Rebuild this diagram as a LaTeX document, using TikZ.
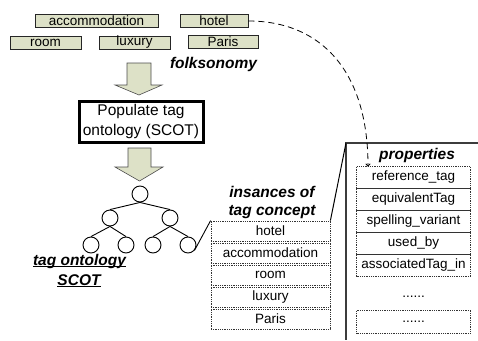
\documentclass[tikz,border=0pt]{standalone}
\usepackage{fontspec}
\setmainfont{Liberation Sans}
\usetikzlibrary{arrows.meta}
\definecolor{tagfill}{RGB}{221,225,199}
\definecolor{panel}{RGB}{60,60,60}
\begin{document}
\begin{tikzpicture}[x=1pt,y=-1pt,
  lbl/.style={font=\fontsize{13.5}{15}\selectfont},
  bi/.style={font=\fontsize{15.5}{17}\selectfont\bfseries\itshape, inner sep=0pt},
  tagbox/.style={draw=black!85, fill=tagfill, line width=0.9pt, minimum height=13pt, inner sep=0pt, lbl},
  instbox/.style={draw=black!80, densely dotted, line width=0.8pt, minimum width=119pt, minimum height=20pt, inner sep=0pt, lbl},
  propbox/.style={draw=black!80, densely dotted, line width=0.8pt, minimum width=114pt, minimum height=22pt, inner sep=0pt, lbl},
  circ/.style={circle, draw, line width=0.9pt, minimum size=16pt, inner sep=0pt},
  bigarrow/.style={draw=black!70, fill=tagfill, line width=0.6pt},
  tedge/.style={line width=0.9pt},
  pline/.style={draw=panel, line width=1.3pt}
]
\useasboundingbox (0,0) rectangle (478,340);

% folksonomy tags
\node[tagbox, minimum width=123pt] (accom) at (96.5,21) {accommodation};
\node[tagbox, minimum width=68pt] (hotel) at (214,21) {hotel};
\node[tagbox, minimum width=71pt] (room) at (45.5,42.5) {room};
\node[tagbox, minimum width=71pt] (luxury) at (134.5,42.5) {luxury};
\node[tagbox, minimum width=70pt] (paris) at (223,42) {Paris};
\node[bi] (folk) at (213.5,64) {folksonomy};

% big arrows
\draw[bigarrow] (127,63) -- (151,63) -- (151,85) -- (162,85) -- (139,95) -- (115,85) -- (127,85) -- cycle;
\draw[bigarrow] (128,148) -- (151,148) -- (151,167) -- (163,167) -- (139.5,181) -- (115,167) -- (128,167) -- cycle;

% populate box
\node[draw, line width=3pt, minimum width=124pt, minimum height=41pt, align=center,
      font=\fontsize{15.5}{20}\selectfont, inner sep=0pt] (pop) at (141,121.5)
      {Populate tag\\ontology (SCOT)};

% tree
\node[circ] (r) at (140,194) {};
\node[circ] (a) at (110,218) {};
\node[circ] (b) at (170,218) {};
\node[circ] (l1) at (91,245) {};
\node[circ] (l2) at (126,245) {};
\node[circ] (l3) at (153,245) {};
\node[circ] (l4) at (188,245) {};
\draw[tedge] (r.south) -- (a.north);
\draw[tedge] (r.south) -- (b.north);
\draw[tedge] (a.south) -- (l1.north);
\draw[tedge] (a.south) -- (l2.north);
\draw[tedge] (b.south) -- (l3.north);
\draw[tedge] (b.south) -- (l4.north);

\node[bi] (to1) at (79.5,261) {tag ontology};
\node[bi] (to2) at (79,280) {SCOT};
\draw[line width=1pt] ([yshift=-1.6pt]to1.base west) -- ([yshift=-1.6pt]to1.base east);
\draw[line width=1pt] ([yshift=-1.6pt]to2.base west) -- ([yshift=-1.6pt]to2.base east);

% instances
\node[bi] (ins1) at (272,192) {insances of};
\node[bi] (ins2) at (272,212) {tag concept};
\node[instbox] (i1) at (270.5,231) {hotel};
\node[instbox] (i2) at (270.5,253) {accommodation};
\node[instbox] (i3) at (270.5,275) {room};
\node[instbox] (i4) at (270.5,297) {luxury};
\node[instbox] (i5) at (270.5,319) {Paris};
\draw[tedge] (l4.-40) -- (i1.north west);

% properties panel
\coordinate (pc) at (346,143);
\coordinate (pr) at (478,143);
\coordinate (pb) at (346,340);
\draw[pline] (pr) -- (pc) -- (pb);
\draw[line width=1pt] (i1.north east) -- (pc);
\node[bi] (prop) at (417,155) {properties};
\node[propbox] (p1) at (413.5,177.5) {reference\_tag};
\node[propbox] (p2) at (413.5,199.5) {equivalentTag};
\node[propbox] (p3) at (413.5,221.5) {spelling\_variant};
\node[propbox] (p4) at (413.5,243.5) {used\_by};
\node[propbox] (p5) at (413.5,265.5) {associatedTag\_in};
\node[lbl] (dots1) at (413.5,297) {......};
\node[propbox, minimum height=23pt] (p6) at (413.5,321.5) {......};

% dashed link
\coordinate (dend) at (368,166.5);
\draw[dashed, dash pattern=on 6pt off 4pt, line width=0.8pt, -{To[length=3pt,width=5pt]}]
  (hotel.east) .. controls (320,21) and (368,70) .. (dend);
\end{tikzpicture}
\end{document}
